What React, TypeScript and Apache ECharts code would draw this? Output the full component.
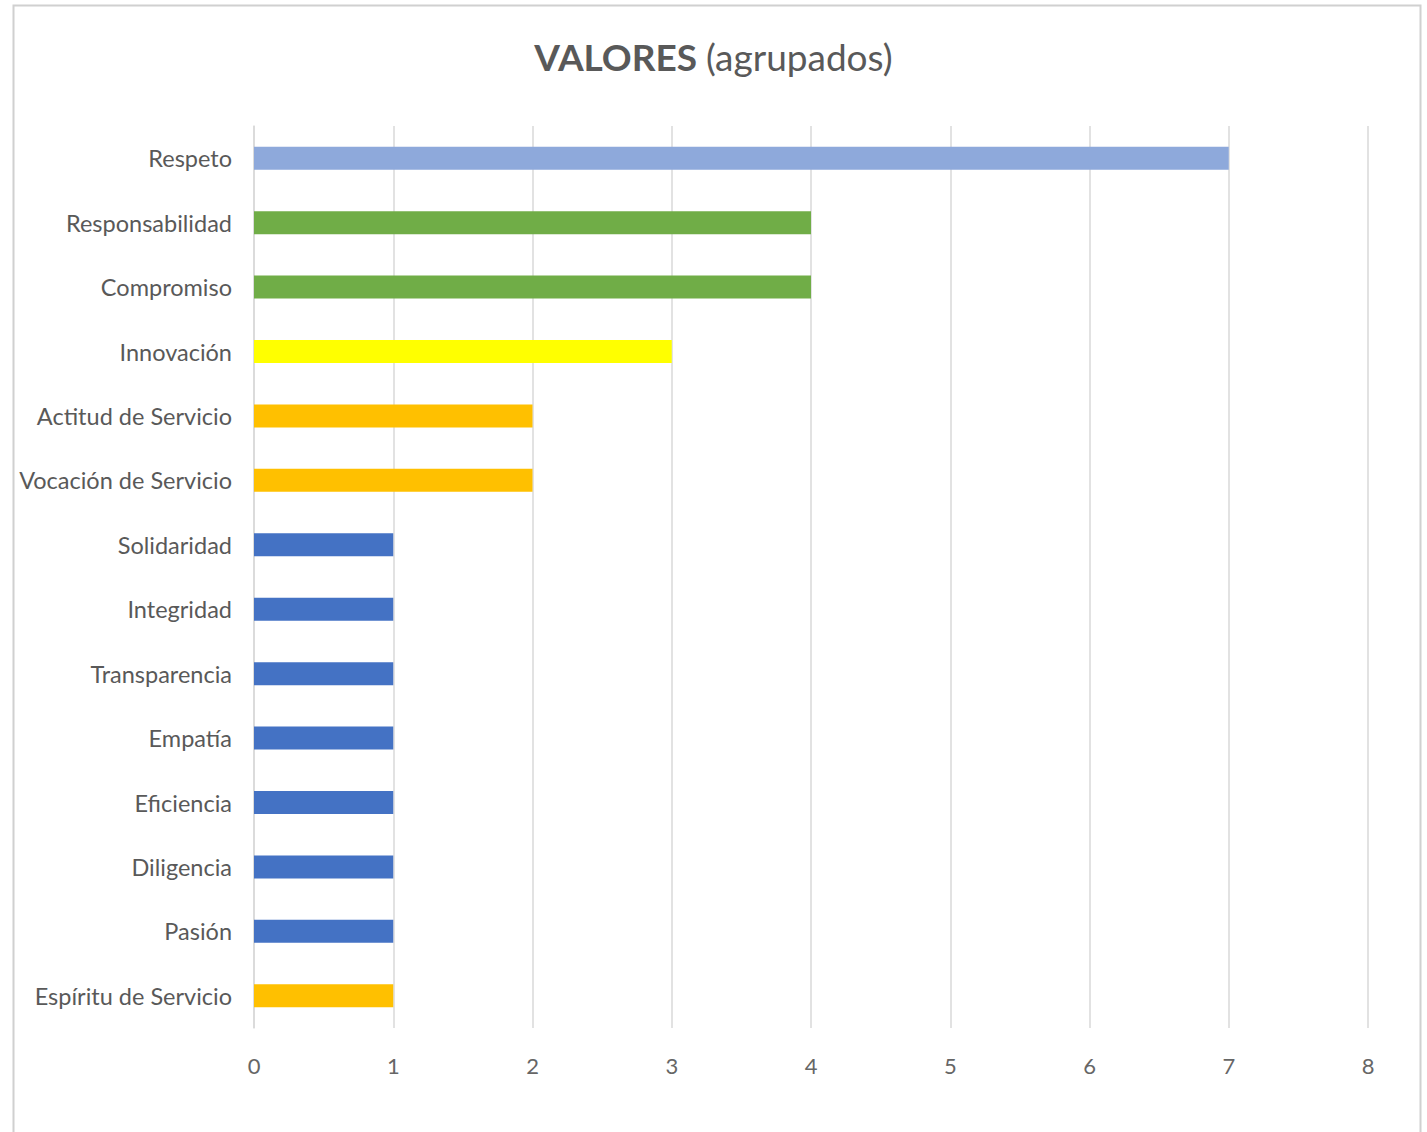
import React, { useEffect, useRef } from "react";
import * as echarts from "echarts";

const categories = [
  "Respeto",
  "Responsabilidad",
  "Compromiso",
  "Innovación",
  "Actitud de Servicio",
  "Vocación de Servicio",
  "Solidaridad",
  "Integridad",
  "Transparencia",
  "Empatía",
  "Eficiencia",
  "Diligencia",
  "Pasión",
  "Espíritu de Servicio",
];
const values = [7, 4, 4, 3, 2, 2, 1, 1, 1, 1, 1, 1, 1, 1];
const barColors = [
  "#8EA9DB",
  "#70AD47",
  "#70AD47",
  "#FFFF00",
  "#FFC000",
  "#FFC000",
  "#4472C4",
  "#4472C4",
  "#4472C4",
  "#4472C4",
  "#4472C4",
  "#4472C4",
  "#4472C4",
  "#FFC000",
];
const xTicks = [0, 1, 2, 3, 4, 5, 6, 7, 8];

export default function App() {
  const ref = useRef<HTMLDivElement>(null);
  useEffect(() => {
    if (!ref.current) return;
    const chart = echarts.init(ref.current, null, { renderer: "svg" });
    chart.setOption({
      animation: false,
      backgroundColor: "#ffffff",
      textStyle: { fontFamily: "Lato" },
      graphic: [
        {
          type: "rect",
          shape: { x: 13.5, y: 5.5, width: 1407, height: 1140 },
          style: { fill: "none", stroke: "#D0D0D0", lineWidth: 2 },
          silent: true,
        },
      ],
      title: {
        text: "{b|VALORES}  {n|(agrupados)}",
        left: "center",
        top: 33,
        textStyle: {
          rich: {
            b: { fontFamily: "Lato", fontWeight: "bold", fontSize: 37, color: "#595959" },
            n: { fontFamily: "Lato", fontWeight: "normal", fontSize: 37, color: "#595959" },
          },
        },
      },
      grid: { left: 254, right: 59, top: 126, bottom: 104, containLabel: false },
      xAxis: {
        type: "value",
        min: 0,
        max: 8,
        interval: 1,
        axisLine: { show: false },
        axisTick: { show: false },
        splitLine: { show: true, lineStyle: { color: "#D9D9D9", width: 1.5 } },
        axisLabel: {
          color: "#666666",
          fontSize: 22,
          margin: 26,
          formatter: (v: number) => (xTicks.includes(v) ? String(v) : ""),
        },
      },
      yAxis: {
        type: "category",
        inverse: true,
        data: categories,
        axisLine: { show: true, lineStyle: { color: "#D9D9D9", width: 1.5 } },
        axisTick: { show: false },
        axisLabel: { color: "#595959", fontSize: 23.5, margin: 22 },
      },
      series: [
        {
          type: "bar",
          data: values.map((v, i) => ({ value: v, itemStyle: { color: barColors[i] } })),
          barWidth: 23,
        },
      ],
    });
    return () => chart.dispose();
  }, []);
  return (
    <div
      ref={ref}
      style={{ position: "absolute", left: 0, top: 0, width: 1427, height: 1132 }}
    />
  );
}
